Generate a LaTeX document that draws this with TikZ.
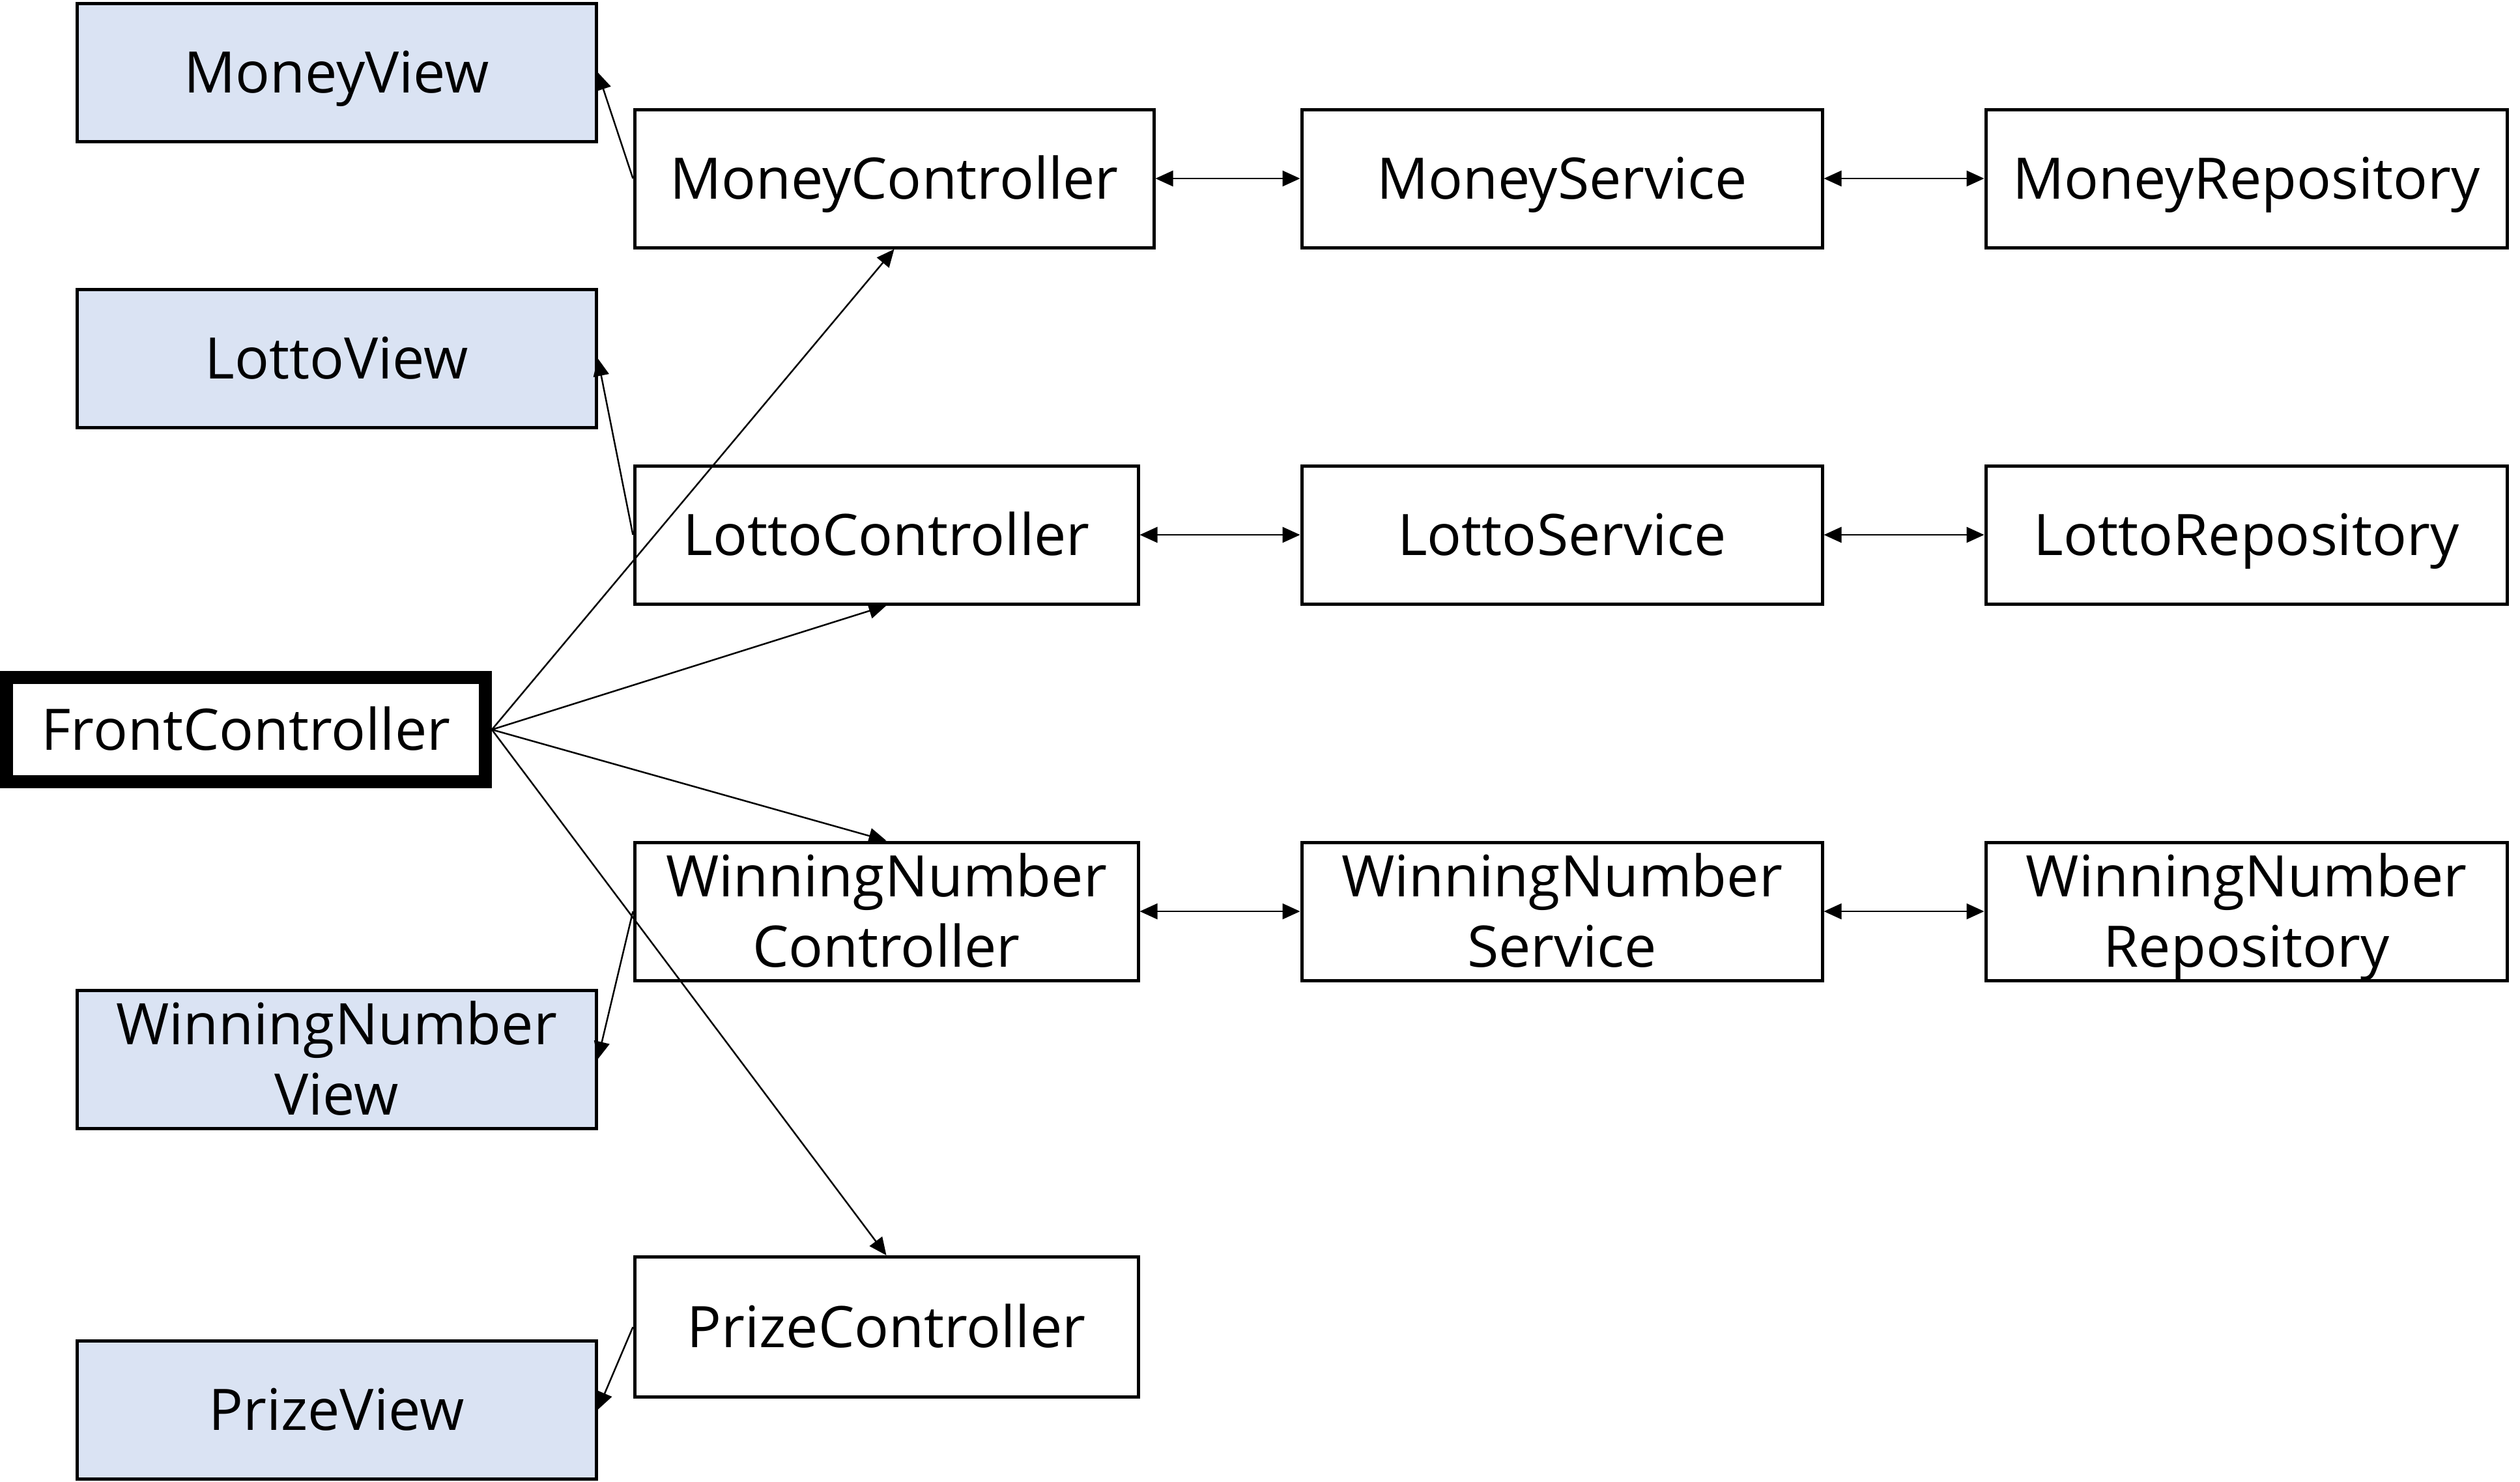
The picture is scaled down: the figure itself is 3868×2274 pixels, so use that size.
\documentclass[tikz,border=0pt]{standalone}
\usepackage{fontspec}
\setmainfont{Open Sans}
\usetikzlibrary{arrows.meta}
\definecolor{viewfill}{HTML}{DAE3F3}
\tikzset{
  box/.style={draw=black, line width=0.5mm, fill=white, inner sep=0pt,
    minimum height=21.2mm, text height=17.85pt, text depth=0pt,
    font=\fontsize{25}{30.7}\selectfont},
  twoline/.style={text height=48.55pt, text depth=0pt},
  viewbox/.style={box, fill=viewfill, minimum width=79.7mm},
  frontbox/.style={box, line width=2mm, minimum width=73.5mm, minimum height=16mm},
  conn/.style={line width=0.25mm, -{Triangle[length=2.7mm,width=2.4mm]}},
  dconn/.style={line width=0.25mm, {Triangle[length=2.7mm,width=2.4mm]}-{Triangle[length=2.7mm,width=2.4mm]}}
}
\newcommand{\twol}[2]{\begin{tabular}[b]{@{}c@{}}#1\\#2\end{tabular}}
\begin{document}
\begin{tikzpicture}[x=0.1mm,y=-0.1mm]
\useasboundingbox (0,0) rectangle (3868,2274);
% views
\node[viewbox] (mv) at (516.5,111) {MoneyView};
\node[viewbox] (lv) at (516.5,550) {LottoView};
\node[viewbox,twoline] (wv) at (516.5,1626) {\twol{WinningNumber}{View}};
\node[viewbox] (pv) at (516.5,2164) {PrizeView};
% controllers
\node[box, minimum width=79.7mm] (mc) at (1372.5,274) {MoneyController};
\node[box, minimum width=77.3mm] (lc) at (1360.5,821) {LottoController};
\node[box, twoline, minimum width=77.3mm] (wc) at (1360.5,1399) {\twol{WinningNumber}{Controller}};
\node[box, minimum width=77.3mm, minimum height=21.5mm] (pc) at (1360.5,2037) {PrizeController};
% services
\node[box, minimum width=79.9mm] (ms) at (2397.5,274) {MoneyService};
\node[box, minimum width=79.9mm] (ls) at (2397.5,821) {LottoService};
\node[box, twoline, minimum width=79.9mm] (ws) at (2397.5,1399) {\twol{WinningNumber}{Service}};
% repositories
\node[box, minimum width=80mm] (mr) at (3448,274) {MoneyRepository};
\node[box, minimum width=80mm] (lr) at (3448,821) {LottoRepository};
\node[box, twoline, minimum width=80mm] (wr) at (3448,1399) {\twol{WinningNumber}{Repository}};
% front controller
\node[frontbox] (fc) at (377.5,1120) {FrontController};
% controller -> view
\draw[conn] (mc.west) -- (mv.east);
\draw[conn] (lc.west) -- (lv.east);
\draw[conn] (wc.west) -- (wv.east);
\draw[conn] (pc.west) -- (pv.east);
% front controller -> controllers
\draw[conn] (fc.east) -- (mc.south);
\draw[conn] (fc.east) -- (lc.south);
\draw[conn] (fc.east) -- (wc.north);
\draw[conn] (fc.east) -- (pc.north);
% controller <-> service <-> repository
\draw[dconn] (mc.east) -- (ms.west);
\draw[dconn] (ms.east) -- (mr.west);
\draw[dconn] (lc.east) -- (ls.west);
\draw[dconn] (ls.east) -- (lr.west);
\draw[dconn] (wc.east) -- (ws.west);
\draw[dconn] (ws.east) -- (wr.west);
\end{tikzpicture}
\end{document}
